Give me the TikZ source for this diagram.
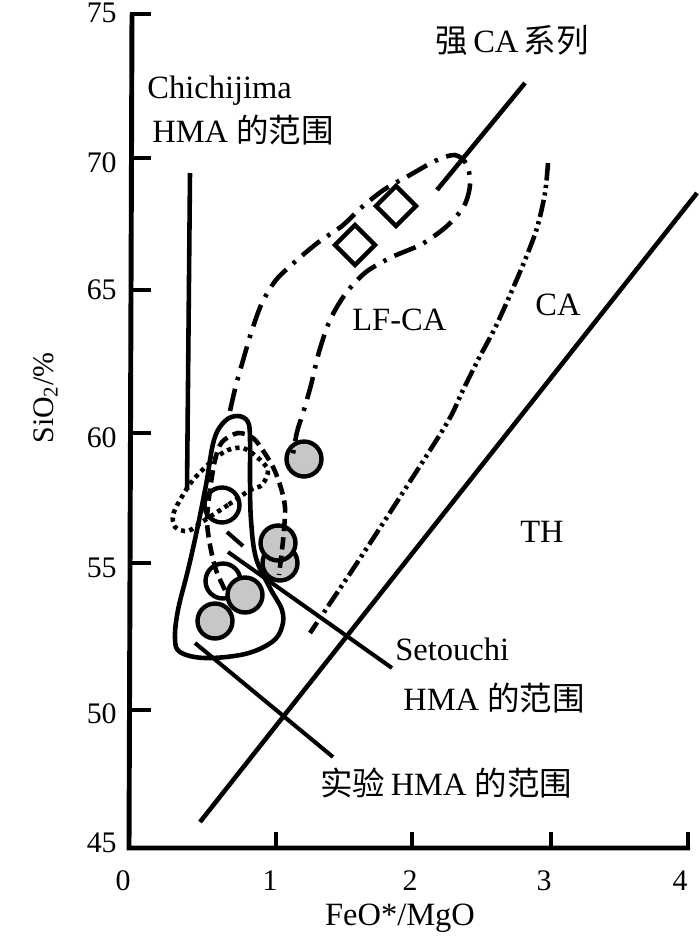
\documentclass[tikz,border=0pt]{standalone}
\usepackage{fontspec}
\setmainfont{Liberation Serif}
\newfontfamily\cjk{Noto Sans CJK SC}
\usepackage{tikz}
\usetikzlibrary{shapes}
\newcommand{\labelsize}{\fontsize{18.5pt}{20pt}\selectfont}
\newcommand{\ticksize}{\fontsize{17pt}{19pt}\selectfont}

\begin{document}
\begin{tikzpicture}[x=0.02cm, y=-0.02cm]
    \tikzstyle{axis}=[line width=2.8pt, line join=miter]
    \tikzstyle{bound}=[line width=2.6pt]
    \tikzstyle{pointer}=[line width=2.3pt]
    \tikzstyle{lfca}=[line width=2.6pt, dash pattern=on 13pt off 5pt on 2pt off 5pt]
    \tikzstyle{cadots}=[line width=2.6pt, dash pattern=on 10pt off 2.5pt on 1.8pt off 2.5pt on 1.8pt off 2.5pt]
    \tikzstyle{hmadash}=[line width=2.6pt, dash pattern=on 7pt off 3.5pt]
    \tikzstyle{hmadot}=[line width=2.6pt, dash pattern=on 2.4pt off 2.4pt]
    \tikzstyle{opencirc}=[circle, draw, line width=2.5pt, fill=white, minimum size=0.7cm, inner sep=0pt]
    \tikzstyle{fullcirc}=[opencirc, fill=black!22]
    \tikzstyle{sample}=[diamond, draw, line width=2.5pt, fill=white, minimum size=0.84cm, inner sep=0pt]
    \tikzstyle{txt}=[font=\labelsize, inner sep=0pt]
    \tikzstyle{tick}=[font=\ticksize, inner sep=0pt]
    \useasboundingbox (0,0) rectangle (700,944);
    % axes
    \draw[axis] (132,14) -- (129,848) -- (690,848);
    \foreach \y in {14,158,290,433,563,710}
      \draw[axis] (130,\y) -- (151,\y);
    \foreach \x in {276,412,551,688}
      \draw[axis] (\x,848) -- (\x,832);
    \foreach \y/\t in {13/75,163/70,290/65,438/60,568/55,714/50,843/45}
      \node[tick, anchor=east] at (117,\y) {\t};
    \foreach \x/\t in {123/0,270/1,410/2,544/3,680/4}
      \node[tick] at (\x,881) {\t};
    \node[tick, rotate=90, anchor=base] (ylab) at (53,398) {SiO\textsubscript{2}/\%};
    \node[txt, anchor=base] (xlab) at (400,925) {FeO*/MgO};
    % samples
    \node[opencirc] (o1) at (222,505) {};
    \node[opencirc] (o2) at (223,581) {};
    \node[fullcirc] (f1) at (304,459) {};
    \node[fullcirc] (f2) at (280,563) {};
    \node[fullcirc] (f3) at (278,543) {};
    \node[fullcirc] (f4) at (245,595) {};
    \node[fullcirc] (f5) at (215,621) {};
    % series boundaries
    \coordinate (thlow) at (200,822);
    \coordinate (thhigh) at (697,193);
    \draw[bound] (thlow) -- (thhigh);
    \coordinate (scalow) at (437,190);
    \coordinate (scahigh) at (525,83);
    \draw[bound] (scalow) -- (scahigh);
    \draw[cadots] plot[smooth] coordinates {(548,163) (545,193) (537,228) (525,260) (510,295)
      (495,328) (478,360) (463,390) (447,423) (400,497) (357,563) (310,633)};
    \draw[lfca] plot[smooth] coordinates {(230,411) (236,385) (244,357) (252,330) (262,303)
      (276,280) (297,260) (320,241) (342,226) (362,207) (385,189) (410,175) (435,161)
      (455,155) (467,165) (470,185) (464,206) (447,226) (422,244) (392,257) (366,272)
      (346,293) (330,320) (319,352) (311,385) (303,413) (297,432) (292,460)};
    \node[sample] (d1) at (355,245) {};
    \node[sample] (d2) at (396,206) {};
    % HMA fields
    \coordinate (chtop) at (190,173);
    \coordinate (chlow) at (187,490);
    \draw[bound] (chtop) -- (chlow);
    \draw[hmadot] plot[smooth cycle] coordinates {(250,490) (228,505) (205,520) (188,531)
      (175,527) (173,515) (180,500) (193,480) (213,460) (228,450) (243,448) (257,457)
      (268,470) (262,485)};
    \draw[hmadash] plot[smooth] coordinates {(225,590) (216,570) (210,545) (207,520)
      (210,490) (215,460) (222,442) (238,433) (253,438) (264,452) (274,469) (281,488)
      (285,507) (284,530) (282,550) (279,575)};
    \draw[bound] plot[smooth cycle, tension=0.6] coordinates {(238,416) (248,422) (250,440)
      (250,480) (251,520) (256,558) (270,588) (282,610) (282,627) (272,642) (245,654)
      (205,658) (180,652) (175,638) (178,610) (188,570) (197,530) (206,485) (214,440)
      (225,421)};
    % labels
    \node[txt, anchor=base west] (chichi) at (147,98) {Chichijima};
    \node[txt, anchor=base west] (chichirange) at (152,142) {HMA {\cjk 的范围}};
    \node[txt, anchor=base west] (strongca) at (435,52) {{\cjk 强}\,CA\,{\cjk 系列}};
    \node[txt, anchor=base west] (lfcalab) at (352,330) {LF-CA};
    \node[txt, anchor=base west] (calab) at (535,315) {CA};
    \node[txt, anchor=base west] (thlab) at (520,542) {TH};
    \node[txt, anchor=base west] (seto) at (395,660) {Setouchi};
    \node[txt, anchor=base west] (setorange) at (403,710) {HMA {\cjk 的范围}};
    \node[txt, anchor=base west] (expt) at (320,795) {{\cjk 实验}\,HMA {\cjk 的范围}};
    % pointers
    \coordinate (setotip) at (228,552);
    \coordinate (setoend) at (392,668);
    \draw[pointer] (setotip) -- (setoend);
    \coordinate (setoa) at (227,532);
    \coordinate (setob) at (243,546);
    \draw[pointer] (setoa) -- (setob);
    \coordinate (expttip) at (195,643);
    \coordinate (exptend) at (333,757);
    \draw[pointer] (expttip) -- (exptend);
\end{tikzpicture}
\end{document}
